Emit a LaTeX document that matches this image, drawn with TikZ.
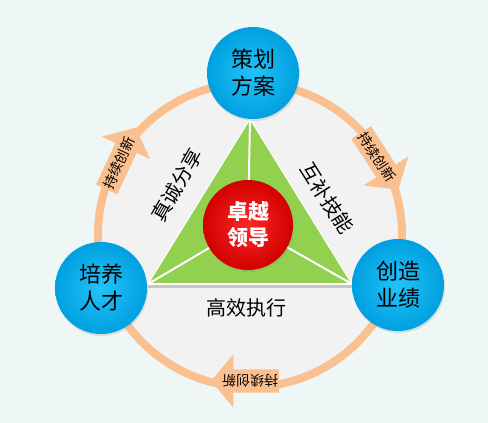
\documentclass[tikz,border=0pt]{standalone}
\usepackage{fontspec}
\newfontfamily\cjk{Noto Sans CJK SC}
\usetikzlibrary{shapes.arrows,shadows}
\definecolor{bgc}{RGB}{238,246,246}
\definecolor{ringc}{RGB}{250,192,143}
\definecolor{innerc}{RGB}{242,242,242}
\definecolor{greenc}{RGB}{146,208,80}
\definecolor{bluein}{RGB}{35,195,248}
\definecolor{blueout}{RGB}{0,160,225}
\definecolor{redin}{RGB}{255,40,40}
\definecolor{redout}{RGB}{210,0,0}
\tikzset{
  bluenode/.style={circle, minimum size=92pt, inner sep=0pt, inner color=bluein, outer color=blueout,
    drop shadow={opacity=0.2, shadow xshift=1pt, shadow yshift=-2pt},
    font=\cjk\fontsize{22}{27}\selectfont, align=center, text=black},
  rednode/.style={circle, minimum size=90pt, inner sep=0pt, inner color=redin, outer color=redout,
    drop shadow={opacity=0.2, shadow xshift=1pt, shadow yshift=-2pt},
    font=\cjk\bfseries\fontsize{21}{26}\selectfont, align=center, text=white},
  cyclearrow/.style={single arrow, fill=ringc, draw=none, inner xsep=1pt, inner ysep=5pt,
    single arrow head extend=15pt, single arrow tip angle=100, minimum width=24pt,
    font=\cjk\fontsize{14}{14}\selectfont, text=black},
  edgelabel/.style={font=\cjk\fontsize{20}{20}\selectfont, text=black},
}
\begin{document}
\begin{tikzpicture}[x=1pt,y=-1pt]
\fill[bgc] (0,0) rectangle (488,423);
\useasboundingbox (0,0) rectangle (488,423);
% circle
\coordinate (ctr) at (250,235);
\fill[innerc] (ctr) circle (152);
\draw[ringc, line width=8pt] (ctr) circle (152);
% triangle
\coordinate (A) at (250,119);
\coordinate (B) at (148,284);
\coordinate (C) at (352,284);
\draw[gray!45, line width=3pt] ([yshift=-2pt]B) -- ([yshift=-2pt]C);
\fill[greenc] (A) -- (B) -- (C) -- cycle;
\draw[white, line width=1pt] (A) -- (B) -- (C) -- cycle;
\draw[white, line width=2.5pt] (B) -- (C);
\coordinate (M) at (248,225);
\draw[white, line width=2pt] (M) -- (A) (M) -- (B) (M) -- (C);
% edge labels
\node[edgelabel, rotate=60] (l1) at (177,185) {真诚分享};
\node[edgelabel, rotate=-58] (l2) at (327,198) {互补技能};
\node[edgelabel] (l3) at (246,308) {高效执行};
% centre
\node[rednode] (core) at (M) {卓越\\领导};
% outer nodes
\node[bluenode] (top) at (253,73) {策划\\方案};
\node[bluenode] (left) at (101,288) {培养\\人才};
\node[bluenode] (right) at (398,285) {创造\\业绩};
% arrows on ring
\node[cyclearrow, rotate=-57] (a1) at (377,157) {持续创新};
\node[cyclearrow, rotate=65] (a2) at (119,163) {持续创新};
\node[cyclearrow, rotate=180] (a3) at (250,381) {持续创新};
\end{tikzpicture}
\end{document}
